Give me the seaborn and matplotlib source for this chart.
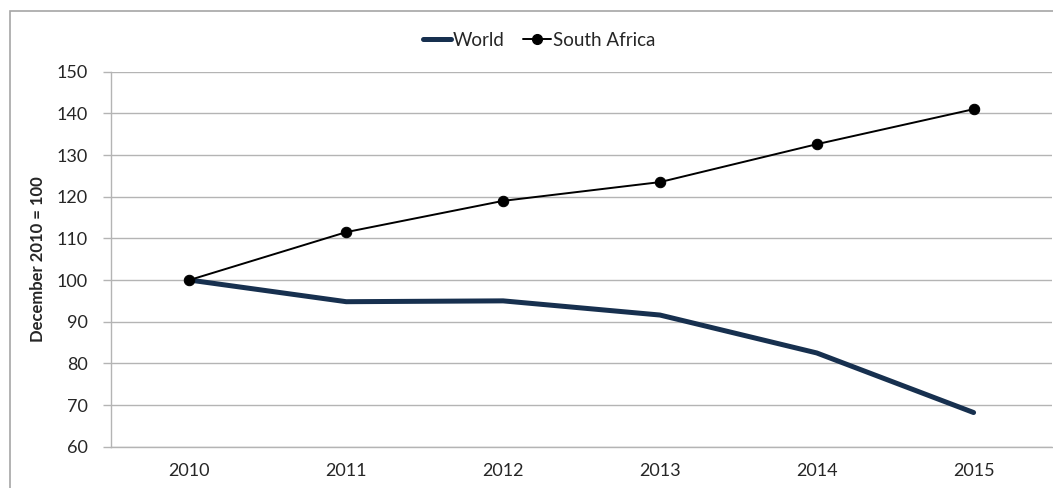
import pandas as pd
import matplotlib
matplotlib.use('Agg')
import matplotlib.pyplot as plt
import seaborn as sns
from matplotlib.patches import Rectangle
from matplotlib.lines import Line2D

# Values (December 2010 = 100)
years = ['2010', '2011', '2012', '2013', '2014', '2015']
world = [100, 94.8, 95, 91.6, 82.5, 68.2]
south_africa = [100, 111.5, 119, 123.5, 132.6, 141]
y_ticks = [60, 70, 80, 90, 100, 110, 120, 130, 140, 150]

world_color = '#17304F'
sa_color = '#000000'
grid_color = '#B4B4B4'

sns.set_theme(style='white')
plt.rcParams['font.family'] = ['Lato', 'DejaVu Sans']

df = pd.DataFrame({'Year': years, 'World': world, 'South Africa': south_africa})
df['pos'] = range(len(years))

fig = plt.figure(figsize=(10.53, 4.88), dpi=100)
ax = fig.add_axes([111 / 1053, 1 - 446.7 / 488, (1052 - 111) / 1053, (446.7 - 71.7) / 488])

# outer chart frame
fig.patches.append(Rectangle((10 / 1053, -0.1), 1.2, 1 - 11 / 488 + 0.1,
                             transform=fig.transFigure, fill=False,
                             edgecolor='#A6A6A6', linewidth=1.2))

sns.lineplot(data=df, x='pos', y='World', ax=ax, color=world_color, linewidth=3.6,
             solid_capstyle='round', zorder=3)
sns.lineplot(data=df, x='pos', y='South Africa', ax=ax, color=sa_color, linewidth=1.4,
             marker='o', markersize=7.5, markeredgecolor=sa_color, zorder=4)

ax.set_xlim(-0.5, len(years) - 0.5)
ax.set_ylim(60, 150)
ax.set_yticks(y_ticks)
ax.set_yticklabels([str(v) for v in y_ticks], fontsize=13)
ax.set_xticks(range(len(years)))
ax.set_xticklabels(years, fontsize=13)
ax.set_xticks([i - 0.5 for i in range(len(years) + 1)], minor=True)
ax.tick_params(axis='x', which='major', length=0, pad=12)
ax.tick_params(axis='x', which='minor', length=6, width=1, color=grid_color, direction='out')
ax.tick_params(axis='y', which='major', length=6, width=1, color=grid_color, direction='out', left=True, pad=11)

ax.grid(axis='y', color=grid_color, linewidth=1)
ax.grid(axis='x', visible=False)
for side in ['top', 'right']:
    ax.spines[side].set_visible(False)
for side in ['left', 'bottom']:
    ax.spines[side].set_color(grid_color)
    ax.spines[side].set_linewidth(1)

ax.set_xlabel('')
ax.set_ylabel('December 2010 = 100', fontsize=12, fontweight='bold', labelpad=7)

handles = [Line2D([0], [0], color=world_color, linewidth=3.6, solid_capstyle='round'),
           Line2D([0], [0], color=sa_color, linewidth=1.4, marker='o', markersize=7)]
fig.legend(handles, ['World', 'South Africa'], loc='center', bbox_to_anchor=(0.512, 1 - 40 / 488),
           ncol=2, frameon=False, fontsize=13.5, handlelength=1.5, handletextpad=0.1,
           columnspacing=1.0)

fig.savefig('out.png', dpi=100)
